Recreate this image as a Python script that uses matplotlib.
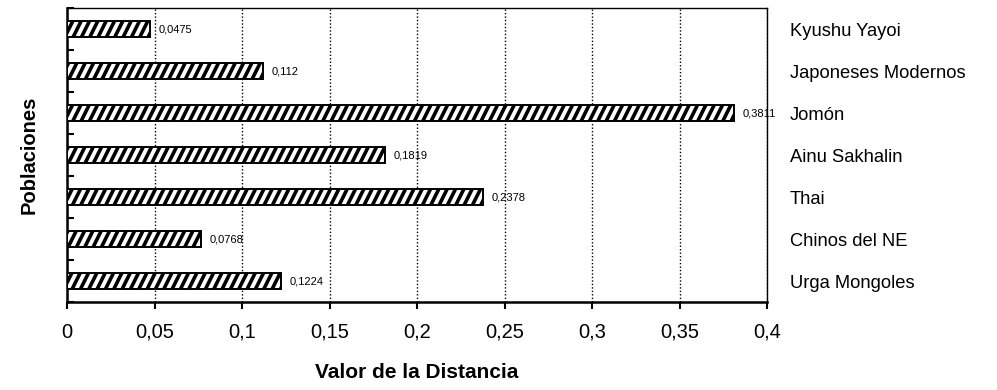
import matplotlib
matplotlib.use("Agg")
import numpy as np
import matplotlib.pyplot as plt
from matplotlib import hatch as mhatch
from matplotlib.path import Path
from matplotlib.ticker import FixedLocator, FuncFormatter

plt.rcParams["font.family"] = ["Liberation Sans", "DejaVu Sans"]
plt.rcParams["hatch.linewidth"] = 2.6


# Excel-style steep diagonal stripes for "/" (instead of the 45 degree default)
class SteepHatch(mhatch.HatchPatternBase):
    def __init__(self, hatch, density):
        self.num_lines = int((hatch.count("/") + hatch.count("x") + hatch.count("X")) * density)
        self.offsets = np.arange(-self.num_lines // 2, self.num_lines + 1) / max(self.num_lines, 1)
        self.num_vertices = len(self.offsets) * 2 if self.num_lines else 0

    def set_vertices_and_codes(self, vertices, codes):
        x0 = self.offsets
        vertices[0::2, 0] = x0 - 0.05
        vertices[0::2, 1] = -0.1
        vertices[1::2, 0] = x0 + 0.55
        vertices[1::2, 1] = 1.1
        codes[0::2] = Path.MOVETO
        codes[1::2] = Path.LINETO


mhatch._hatch_types = [SteepHatch if t is mhatch.NorthEastHatch else t
                       for t in mhatch._hatch_types]

poblaciones = [
    "Urga Mongoles",
    "Chinos del NE",
    "Thai",
    "Ainu Sakhalin",
    "Jomón",
    "Japoneses Modernos",
    "Kyushu Yayoi",
]
distancias = [0.1224, 0.0768, 0.2378, 0.1819, 0.3811, 0.112, 0.0475]
etiquetas = ["0,1224", "0,0768", "0,2378", "0,1819", "0,3811", "0,112", "0,0475"]

fig = plt.figure(figsize=(9.97, 3.90), dpi=100)
ax = fig.add_axes([67 / 997, 88 / 390, 700 / 997, 294 / 390])

y = list(range(len(poblaciones)))
ax.barh(y, distancias, height=0.38, color="white", edgecolor="black",
        hatch="//", linewidth=1.4, zorder=3)

for yi, v, lab in zip(y, distancias, etiquetas):
    ax.annotate(lab, (v, yi), xytext=(6, 0), textcoords="offset points",
                va="center", ha="left", fontsize=8, zorder=4)

ax.set_xlim(0, 0.4)
ax.set_ylim(-0.5, len(poblaciones) - 0.5)

xt = [i * 0.05 for i in range(9)]
ax.xaxis.set_major_locator(FixedLocator(xt))
ax.xaxis.set_major_formatter(FuncFormatter(lambda v, p: f"{v:g}".replace(".", ",")))
ax.grid(axis="x", color="black", linestyle=(0, (1, 1.5)), linewidth=1, zorder=1)

ax.set_yticks(y)
ax.set_yticklabels(poblaciones)
ax.yaxis.set_minor_locator(FixedLocator([i + 0.5 for i in range(-1, len(poblaciones))]))
ax.tick_params(axis="y", which="major", left=False, right=False,
               labelleft=False, labelright=True, pad=13, labelsize=13.2)
ax.tick_params(axis="y", which="minor", left=True, direction="in", length=5, width=1.5)
ax.tick_params(axis="x", which="major", direction="out", length=5, width=1.5,
               pad=10, labelsize=14.5)

for s in ["left", "bottom"]:
    ax.spines[s].set_linewidth(1.8)
ax.spines["top"].set_linewidth(1.0)
ax.spines["right"].set_linewidth(1.0)

ax.set_xlabel("Valor de la Distancia", fontsize=15, fontweight="bold", labelpad=15)
ax.set_ylabel("Poblaciones", fontsize=14.5, fontweight="bold", labelpad=17)

fig.savefig("out.png", dpi=100)
